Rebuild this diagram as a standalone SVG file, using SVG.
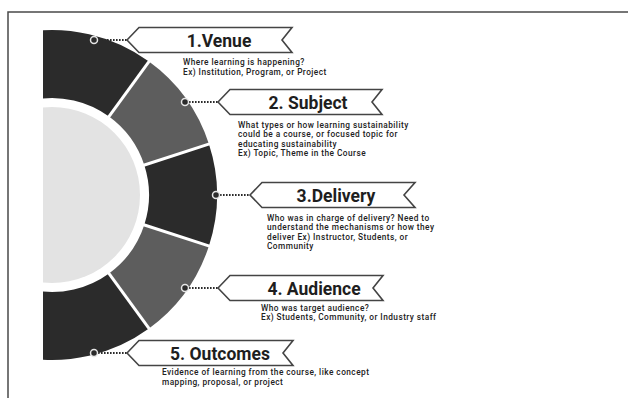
<svg xmlns="http://www.w3.org/2000/svg" width="628" height="398" viewBox="0 0 628 398">
  <defs>
    <clipPath id="leftCut">
      <rect x="43" y="0" width="600" height="398"/>
    </clipPath>
  </defs>
  <style>
    .frame { fill: none; stroke: #4a4a4a; stroke-width: 1.5; }
    .dark { fill: #2b2b2b; }
    .mid { fill: #5d5d5d; }
    .core { fill: #e3e3e3; }
    .sep { stroke: #ffffff; stroke-width: 3; }
    .banner { fill: #ffffff; stroke: #444444; stroke-width: 1.6; stroke-linejoin: miter; }
    .link { stroke: #2b2b2b; stroke-width: 2; stroke-dasharray: 1.6 1.4; fill: none; }
    .dot { fill: #2b2b2b; stroke: #e6e6e6; stroke-width: 1.5; }
    .title { font-family: Roboto, "Liberation Sans", sans-serif; font-weight: 700; font-size: 17.5px; fill: #1e1e1e; text-anchor: middle; }
    .desc { font-family: Roboto, "Liberation Sans", sans-serif; font-weight: 500; font-size: 8.3px; letter-spacing: 0.45px; fill: #222222; }
  </style>

  <!-- outer frame (only left and top edges fall inside the canvas) -->
  <rect class="frame" x="8" y="12" width="700" height="500"/>

  <!-- half ring of five segments around a pale core -->
  <g id="ring" clip-path="url(#leftCut)">
    <circle class="core" cx="52" cy="195" r="88"/>
    <path class="dark" d="M23.35 32.51 A165 165 0 0 1 148.99 61.51 L109.02 116.53 A97 97 0 0 0 35.16 99.47 Z"/>
    <path class="mid" d="M148.99 61.51 A165 165 0 0 1 208.92 144.01 L144.25 165.03 A97 97 0 0 0 109.02 116.53 Z"/>
    <path class="dark" d="M208.92 144.01 A165 165 0 0 1 208.92 245.99 L144.25 224.97 A97 97 0 0 0 144.25 165.03 Z"/>
    <path class="mid" d="M208.92 245.99 A165 165 0 0 1 148.99 328.49 L109.02 273.47 A97 97 0 0 0 144.25 224.97 Z"/>
    <path class="dark" d="M148.99 328.49 A165 165 0 0 1 23.35 357.49 L35.16 290.53 A97 97 0 0 0 109.02 273.47 Z"/>
    <line class="sep" x1="107.25" y1="118.95" x2="150.75" y2="59.08"/>
    <line class="sep" x1="141.40" y1="165.95" x2="211.78" y2="143.08"/>
    <line class="sep" x1="141.40" y1="224.05" x2="211.78" y2="246.92"/>
    <line class="sep" x1="107.25" y1="271.05" x2="150.75" y2="330.92"/>
  </g>

  <!-- dotted leaders from the ring to each banner -->
  <g id="connectors">
    <line class="link" x1="98" y1="40" x2="127" y2="40"/>
    <line class="link" x1="189" y1="102" x2="218" y2="102"/>
    <line class="link" x1="220" y1="195" x2="250" y2="195"/>
    <line class="link" x1="189" y1="288" x2="218" y2="288"/>
    <line class="link" x1="98" y1="353" x2="127" y2="353"/>
    <circle class="dot" cx="94" cy="40" r="3.5"/>
    <circle class="dot" cx="185" cy="102" r="3.5"/>
    <circle class="dot" cx="216" cy="195" r="3.5"/>
    <circle class="dot" cx="185" cy="288" r="3.5"/>
    <circle class="dot" cx="94" cy="353" r="3.5"/>
  </g>

  <g id="venue">
    <path class="banner" d="M127 40 L139 27.5 L292 27.5 L282 40 L292 52.5 L139 52.5 Z"/>
    <text class="title" x="219" y="47">1.Venue</text>
    <text class="desc" x="183" y="64.5">Where learning is happening?</text>
    <text class="desc" x="183" y="74.5">Ex) Institution, Program, or Project</text>
  </g>

  <g id="subject">
    <path class="banner" d="M218 102 L230 89.5 L382 89.5 L372 102 L382 114.5 L230 114.5 Z"/>
    <text class="title" x="308" y="109">2. Subject</text>
    <text class="desc" x="238" y="127.5">What types or how learning sustainability</text>
    <text class="desc" x="238" y="137">could be a course, or focused topic for</text>
    <text class="desc" x="238" y="146.5">educating sustainability</text>
    <text class="desc" x="238" y="156">Ex) Topic, Theme in the Course</text>
  </g>

  <g id="delivery">
    <path class="banner" d="M250 195 L262 182.5 L415 182.5 L404 195 L415 207.5 L262 207.5 Z"/>
    <text class="title" x="336" y="201.5">3.Delivery</text>
    <text class="desc" x="267" y="220.5">Who was in charge of delivery? Need to</text>
    <text class="desc" x="267" y="230">understand the mechanisms or how they</text>
    <text class="desc" x="267" y="239.5">deliver Ex) Instructor, Students, or</text>
    <text class="desc" x="267" y="249">Community</text>
  </g>

  <g id="audience">
    <path class="banner" d="M218 288 L230 275.5 L383 275.5 L373 288 L383 300.5 L230 300.5 Z"/>
    <text class="title" x="314" y="294.5">4. Audience</text>
    <text class="desc" x="261" y="310.5">Who was target audience?</text>
    <text class="desc" x="261" y="320">Ex) Students, Community, or Industry staff</text>
  </g>

  <g id="outcomes">
    <path class="banner" d="M127 353 L139 340.5 L293 340.5 L283 353 L293 365.5 L139 365.5 Z"/>
    <text class="title" x="220" y="359.5">5. Outcomes</text>
    <text class="desc" x="162" y="374.5">Evidence of learning from the course, like concept</text>
    <text class="desc" x="162" y="384.5">mapping, proposal, or project</text>
  </g>
</svg>
